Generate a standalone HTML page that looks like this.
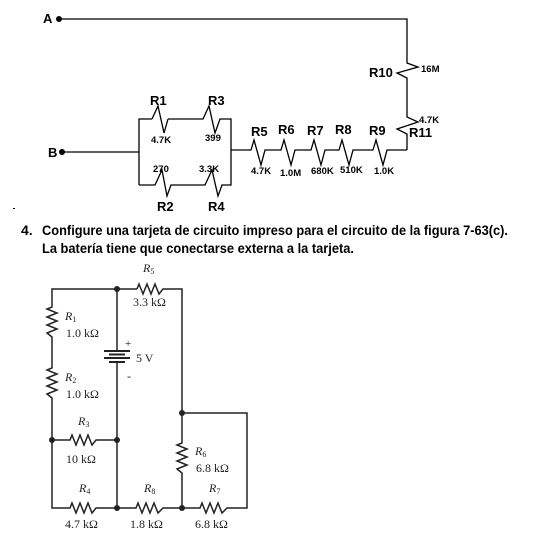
<!DOCTYPE html>
<html><head><meta charset="utf-8"><style>
html,body{margin:0;padding:0;background:#fff;width:533px;height:543px;overflow:hidden}
.b{font-family:"Liberation Sans",sans-serif;font-weight:bold;fill:#000}
.s{font-family:"Liberation Serif",serif;fill:#222;font-size:12px}
</style></head><body>
<svg width="533" height="543" viewBox="0 0 533 543" xmlns="http://www.w3.org/2000/svg">
<g fill="none" stroke="#000" stroke-width="1.3">
<polyline points="59,19 407,19 407,63 418,67 397,73 407,78 407,117 418,122 397,129 407,134 407,150"/>
<polyline points="231,150 251,150 254,140 261,165 265,150 281,150 284,140 291,165 295,150 311,150 314,140 321,165 325,150 339,150 342,140 349,165 353,150 373,150 376,140 383,165 387,150 407,150"/>
<polyline points="152,119 158,106 164,133 168,119"/>
<polyline points="139,185 139,119 152,119"/>
<polyline points="168,119 203,119 209,106 215,133 220,119 231,119 231,185 222,185 218,196 212,170 205,185 171,185 167,196 162,170 155,185 139,185"/>
<line x1="62" y1="152" x2="139" y2="152"/>
</g>
<circle cx="59" cy="19" r="3" fill="#000"/>
<circle cx="62" cy="152" r="3" fill="#000"/>
<text class="b" x="43" y="23" font-size="13">A</text>
<text class="b" x="48" y="157" font-size="13">B</text>
<g class="b" font-size="13">
<text x="150" y="105">R1</text><text x="208" y="105">R3</text>
<text x="157" y="211">R2</text><text x="208" y="211">R4</text>
<text x="251" y="136">R5</text><text x="278" y="134">R6</text><text x="307" y="135">R7</text><text x="335" y="134">R8</text><text x="369" y="135">R9</text>
<text x="369" y="77">R10</text><text x="409" y="137">R11</text>
</g>
<g class="b" font-size="9.5">
<text x="151" y="143">4.7K</text><text x="205" y="141">399</text>
<text x="153" y="172">270</text><text x="199" y="172">3.3K</text>
<text x="251" y="174">4.7K</text><text x="280" y="176">1.0M</text><text x="311" y="174">680K</text><text x="340" y="173">510K</text><text x="374" y="174">1.0K</text>
<text x="421" y="72">16M</text><text x="419" y="123">4.7K</text>
</g>
<rect x="13" y="208" width="2" height="1" fill="#000"/>
<g class="b" font-size="14">
<text x="21" y="235">4.</text>
<text x="42" y="235" textLength="466" lengthAdjust="spacingAndGlyphs">Configure una tarjeta de circuito impreso para el circuito de la figura 7-63(c).</text>
<text x="42" y="253" textLength="312" lengthAdjust="spacingAndGlyphs">La batería tiene que conectarse externa a la tarjeta.</text>
</g>
<g fill="none" stroke="#222" stroke-width="1.5">
<polyline points="137,289 52,289 52,307 47,309 57,313 47,317 57,321 47,325 57,329 47,333 52,337 52,368 47,370 57,374 47,378 57,382 47,386 57,390 47,394 52,398 52,508 70,508 72,503 76,513 80,503 84,513 88,503 92,513 96,508 136,508 138,503 142,513 146,503 150,513 154,503 158,513 163,508 200,508 202,503 206,513 210,503 214,513 218,503 222,513 227,508 247,508 247,413 182,413 182,443 177,445 187,449 177,453 187,457 177,461 187,465 177,469 182,473 182,508"/>
<polyline points="137,289 139,284 143,294 147,284 151,294 155,284 159,294 163,289 182,289 182,413"/>
<polyline points="52,440 70,440 72,435 76,445 80,435 84,445 88,435 92,445 96,440 117,440"/>
<polyline points="117,289 117,351"/>
<polyline points="117,362 117,508"/>
</g>
<g stroke="#222" stroke-width="2">
<line x1="104" y1="351" x2="130" y2="351"/>
<line x1="109" y1="354.5" x2="125" y2="354.5"/>
<line x1="104" y1="358" x2="130" y2="358"/>
<line x1="109" y1="362" x2="125" y2="362"/>
</g>
<g fill="#222">
<circle cx="117" cy="289" r="3"/><circle cx="52" cy="440" r="3"/><circle cx="117" cy="440" r="3"/>
<circle cx="117" cy="508" r="3"/><circle cx="182" cy="508" r="3"/><circle cx="182" cy="413" r="3"/>
</g>
<g class="s">
<text x="143" y="272" font-style="italic">R<tspan font-size="8" dy="2" font-style="normal">5</tspan></text>
<text x="133" y="306">3.3 kΩ</text>
<text x="65" y="320" font-style="italic">R<tspan font-size="8" dy="2" font-style="normal">1</tspan></text>
<text x="66" y="337">1.0 kΩ</text>
<text x="65" y="381" font-style="italic">R<tspan font-size="8" dy="2" font-style="normal">2</tspan></text>
<text x="66" y="398">1.0 kΩ</text>
<text x="78" y="425" font-style="italic">R<tspan font-size="8" dy="2" font-style="normal">3</tspan></text>
<text x="66" y="463">10 kΩ</text>
<text x="195" y="455" font-style="italic">R<tspan font-size="8" dy="2" font-style="normal">6</tspan></text>
<text x="196" y="472">6.8 kΩ</text>
<text x="79" y="492" font-style="italic">R<tspan font-size="8" dy="2" font-style="normal">4</tspan></text>
<text x="144" y="492" font-style="italic">R<tspan font-size="8" dy="2" font-style="normal">8</tspan></text>
<text x="209" y="492" font-style="italic">R<tspan font-size="8" dy="2" font-style="normal">7</tspan></text>
<text x="65" y="528">4.7 kΩ</text>
<text x="130" y="528">1.8 kΩ</text>
<text x="195" y="528">6.8 kΩ</text>
<text x="136" y="362">5 V</text>
<text x="125" y="347" font-size="11">+</text>
<text x="127" y="380" font-size="12">-</text>
</g>
</svg>
</body></html>
